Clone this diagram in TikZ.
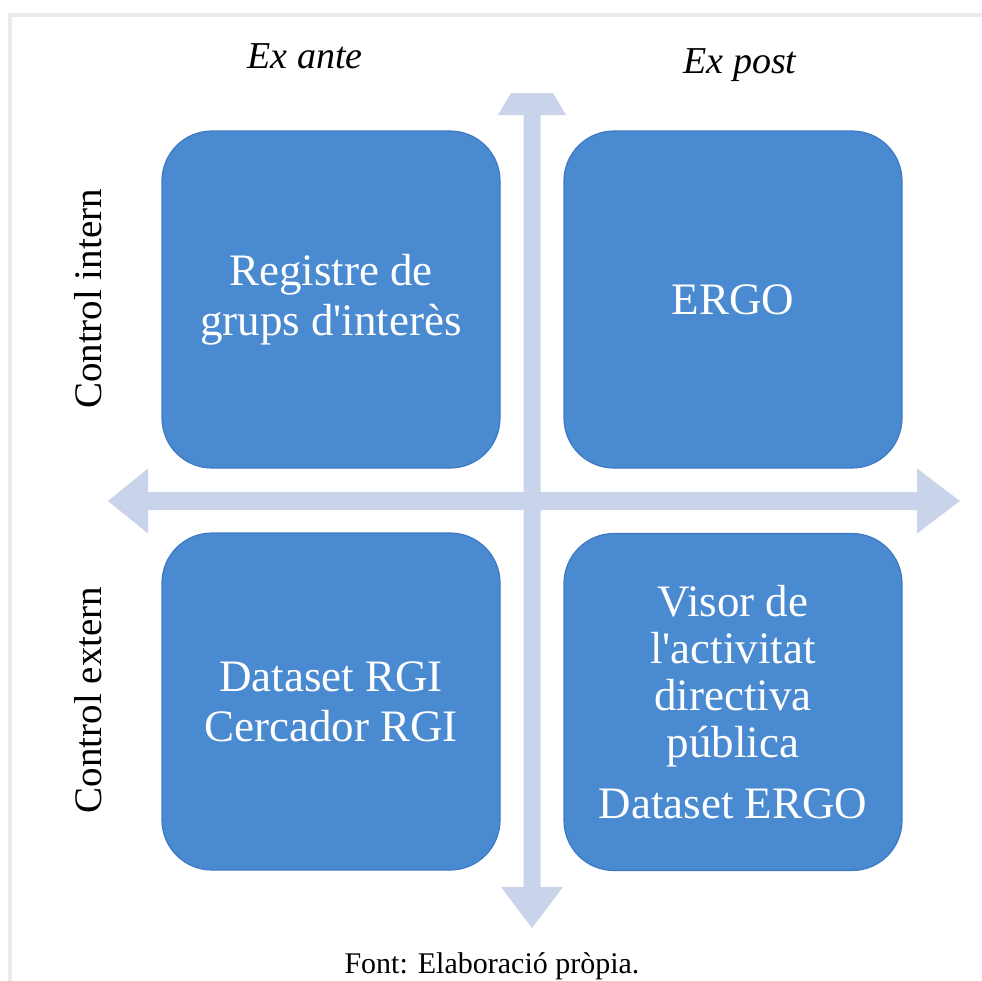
\documentclass[tikz,border=0pt]{standalone}
\usepackage{fontspec}
\usetikzlibrary{calc}
\setmainfont{Liberation Serif}[Ligatures=TeXOff]
\definecolor{boxblue}{RGB}{74,138,208}
\definecolor{boxedge}{RGB}{62,122,196}
\definecolor{axisblue}{RGB}{201,211,233}
\definecolor{framegray}{RGB}{235,235,235}
\tikzset{
  quad/.style={rectangle, rounded corners=25pt, fill=boxblue, draw=boxedge,
    line width=0.6pt, minimum width=169pt, minimum height=168.5pt, inner sep=0pt,
    text=white, align=center, font=\fontsize{22.5}{25}\selectfont},
  side/.style={rotate=90, font=\fontsize{19.5}{22}\selectfont},
  head/.style={anchor=base, font=\fontsize{19}{22}\selectfont\itshape}
}

\begin{document}
\begin{tikzpicture}[x=0.5pt,y=-0.5pt]
\useasboundingbox (0,0) rectangle (982,981);
\fill[white] (0,0) rectangle (982,981);
\draw[framegray, line width=2pt] (9.5,981) -- (9.5,15) -- (982,15);

\coordinate (vtop) at (532,93);
\coordinate (vbot) at (532,928);
\coordinate (hleft) at (108,501);
\coordinate (hright) at (960,501);

\fill[axisblue] ($(vtop)+(-21,0)$) -- ($(vtop)+(21,0)$) -- ($(vtop)+(34,22)$) -- ($(vtop)+(8.5,22)$)
  -- ($(vbot)+(8.5,-41)$) -- ($(vbot)+(31,-41)$) -- (vbot) -- ($(vbot)+(-31,-41)$)
  -- ($(vbot)+(-8.5,-41)$) -- ($(vtop)+(-8.5,22)$) -- ($(vtop)+(-34,22)$) -- cycle;
\fill[axisblue] (hleft) -- ($(hleft)+(40,-32.5)$) -- ($(hleft)+(40,-9)$) -- ($(hright)+(-43,-9)$)
  -- ($(hright)+(-43,-32.5)$) -- (hright) -- ($(hright)+(-43,32.5)$) -- ($(hright)+(-43,9)$)
  -- ($(hleft)+(40,9)$) -- ($(hleft)+(40,32.5)$) -- cycle;

\node[quad] (registre) at (331,299.5) {Registre de\\grups d'interès};
\node[quad] (ergo) at (733,299.5) {ERGO};
\node[quad] (datasetrgi) at (331,701.5) {Dataset RGI\\Cercador RGI};
\node[quad, font=\fontsize{22.5}{23.5}\selectfont] (visor) at (733,702)
  {Visor de\\l'activitat\\directiva\\pública\\[7pt]Dataset ERGO};

\node[side] (intern) at (88,299) {Control intern};
\node[side] (extern) at (88,700) {Control extern};
\node[head] (exante) at (305,68) {Ex ante};
\node[head] (expost) at (740,73) {Ex post};

\node[anchor=base, font=\fontsize{15}{18}\selectfont] (font) at (492,973) {Font: Elaboració pròpia.};
\end{tikzpicture}
\end{document}
